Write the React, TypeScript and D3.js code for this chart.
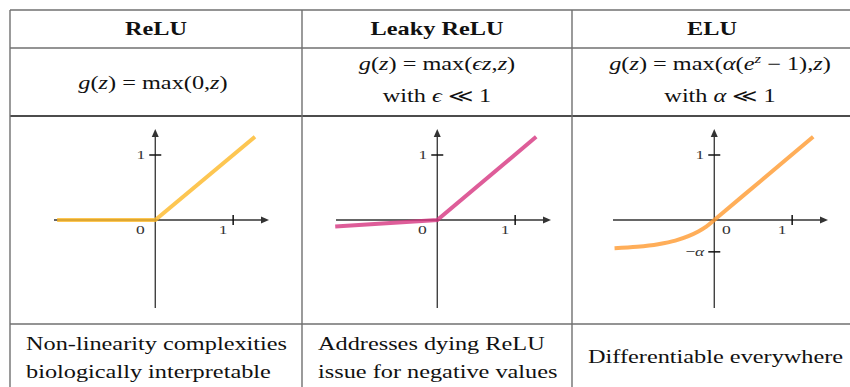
import React, { useEffect } from 'react';
import * as d3 from 'd3';

// table content
const headers = ['ReLU', 'Leaky ReLU', 'ELU'];
const formulas = [
  ['g(z) = max(0,z)'],
  ['g(z) = max(ϵz,z)', 'with ϵ ≪ 1'],
  ['g(z) = max(α(e^z − 1),z)', 'with α ≪ 1'],
];
const descriptions = [
  ['Non-linearity complexities', 'biologically interpretable'],
  ['Addresses dying ReLU', 'issue for negative values'],
  ['Differentiable everywhere'],
];

// curves, [z, g(z)]
const reluPoints: [number, number][] = [[-1.26, 0], [0, 0], [1.28, 1.28]];
const leakyPoints: [number, number][] = [[-1.31, -0.1], [0, 0], [1.27, 1.28]];
const eluPoints: [number, number][] = [
  [-1.28, -0.435], [-0.99, -0.412], [-0.72, -0.372], [-0.5, -0.317], [-0.333, -0.249],
  [-0.205, -0.177], [-0.103, -0.103], [0, 0], [0.6, 0.605], [1.27, 1.28],
];
const xTickValues = [1];
const xTickLabels = ['1'];
const yTickValues = [[1], [1], [1, -0.49]];
const yTickLabels = [['1'], ['1'], ['1', '−α']];
const curveColors = ['#FDB827', '#D6357F', '#FF9A30'];

// layout
const colEdges = [10, 302, 572, 852];
const rowEdges = [10, 48, 116, 324];
const originX = [155, 437, 714];
const formulaShift = [-3, 0, 8];
const SX = 1.35;
const FONT = "'Liberation Serif', 'DejaVu Serif', serif";
const ITALIC = 'gzeϵα';

function MathText({ s, size }: { s: string; size: number }) {
  // split into runs: italic letters, superscript after ^
  const runs: { t: string; it: boolean; sup: boolean }[] = [];
  let sup = false;
  for (const ch of s) {
    if (ch === '^') { sup = true; continue; }
    const it = ITALIC.includes(ch);
    const last = runs[runs.length - 1];
    if (last && last.it === it && last.sup === sup) last.t += ch;
    else runs.push({ t: ch, it, sup });
    sup = false;
  }
  let shifted = false;
  return (
    <>
      {runs.map((r, i) => {
        let dy = 0;
        if (r.sup && !shifted) { dy = -size * 0.38; shifted = true; }
        else if (!r.sup && shifted) { dy = size * 0.38; shifted = false; }
        return (
          <tspan key={i} dy={dy || undefined} style={{ fontStyle: r.it ? 'italic' : 'normal' }}
            fontSize={r.sup ? size * 0.7 : size}>{r.t}</tspan>
        );
      })}
    </>
  );
}

const txt = (size: number, bold = false) => ({
  fontFamily: FONT, fontSize: size, fontWeight: bold ? 700 : 400,
});

function Panel({ i }: { i: number }) {
  const ox = originX[i];
  const x = d3.scaleLinear().domain([-1.3, 1.46]).range([ox - 101, ox + 114]);
  const y = d3.scaleLinear().domain([-1.354, 1.4]).range([308, 129]);
  const points = [reluPoints, leakyPoints, eluPoints][i];
  const line = d3.line<[number, number]>()
    .x(d => x(d[0])).y(d => y(d[1]))
    .curve(i === 2 ? d3.curveMonotoneX : d3.curveLinear);
  const axis = '#333';
  const x0 = x(0), y0 = y(0);
  const xEnd = x(1.46), yTop = y(1.4);
  const zeroRight = i === 2;
  return (
    <g>
      <line x1={x(-1.3)} x2={xEnd - 4} y1={y0} y2={y0} stroke={axis} strokeWidth={1.3} />
      <path d={`M${xEnd},${y0} l-8,-3.5 l0,7 z`} fill={axis} />
      <line x1={x0} x2={x0} y1={y(-1.354)} y2={yTop + 4} stroke={axis} strokeWidth={1.3} />
      <path d={`M${x0},${yTop} l-3.5,8 l7,0 z`} fill={axis} />
      {xTickValues.map((v, k) => (
        <g key={k}>
          <line x1={x(v)} x2={x(v)} y1={y0 - 5} y2={y0 + 5} stroke="#111" strokeWidth={1.5} />
          <text transform={`translate(${x(v) - 10},${y0 + 14}) scale(${SX},1)`} textAnchor="middle"
            style={txt(13)} fill="#333">{xTickLabels[k]}</text>
        </g>
      ))}
      {yTickValues[i].map((v, k) => (
        <g key={k}>
          <line x1={x0 - 6} x2={x0 + 6} y1={y(v)} y2={y(v)} stroke="#111" strokeWidth={1.5} />
          <text transform={`translate(${x0 - 10},${y(v) + 4.5}) scale(${SX},1)`} textAnchor="end"
            style={txt(13)} fill="#333">
            <MathText s={yTickLabels[i][k]} size={13} />
          </text>
        </g>
      ))}
      <text transform={`translate(${zeroRight ? x0 + 12 : x0 - 15},${y0 + 14}) scale(${SX},1)`}
        textAnchor="middle" style={txt(13)} fill="#333">0</text>
      <path d={line(points) ?? ''} fill="none" stroke={curveColors[i]} strokeOpacity={0.8}
        strokeWidth={4} />
    </g>
  );
}

export default function App() {
  useEffect(() => {
    document.body.style.margin = '0';
  }, []);

  const gray = '#707070';
  return (
    <svg width={850} height={387} style={{ display: 'block', background: '#fff' }}>
      {/* grid */}
      <line x1={colEdges[0]} x2={colEdges[3]} y1={rowEdges[0]} y2={rowEdges[0]} stroke={gray} strokeWidth={1.4} />
      <line x1={colEdges[0]} x2={colEdges[3]} y1={rowEdges[1]} y2={rowEdges[1]} stroke={gray} strokeWidth={1.4} />
      <line x1={colEdges[0]} x2={colEdges[3]} y1={rowEdges[2]} y2={rowEdges[2]} stroke="#111" strokeWidth={1.6} />
      <line x1={colEdges[0]} x2={colEdges[3]} y1={rowEdges[3]} y2={rowEdges[3]} stroke={gray} strokeWidth={1.4} />
      {colEdges.map((cx, k) => (
        <line key={k} x1={cx} x2={cx} y1={rowEdges[0]} y2={387} stroke={gray} strokeWidth={1.4} />
      ))}

      {headers.map((h, i) => (
        <text key={h} transform={`translate(${(colEdges[i] + colEdges[i + 1]) / 2},35) scale(${SX},1)`}
          textAnchor="middle" style={txt(18, true)} fill="#111">{h}</text>
      ))}

      {formulas.map((lines, i) => lines.map((s, k) => {
        const base = lines.length === 1 ? 89 : 70 + k * 32;
        const cx = (colEdges[i] + colEdges[i + 1]) / 2 + formulaShift[i];
        return (
          <text key={`${i}-${k}`} transform={`translate(${cx},${base}) scale(${SX},1)`}
            textAnchor="middle" style={txt(18)} fill="#111">
            <MathText s={s} size={18} />
          </text>
        );
      }))}

      {headers.map((_, i) => <Panel key={i} i={i} />)}

      {descriptions.map((lines, i) => lines.map((s, k) => {
        const base = lines.length === 1 ? 363 : 350 + k * 28;
        return (
          <text key={`${i}-${k}`} transform={`translate(${colEdges[i] + 16},${base}) scale(${SX},1)`}
            style={txt(18)} fill="#111">{s}</text>
        );
      }))}
    </svg>
  );
}
